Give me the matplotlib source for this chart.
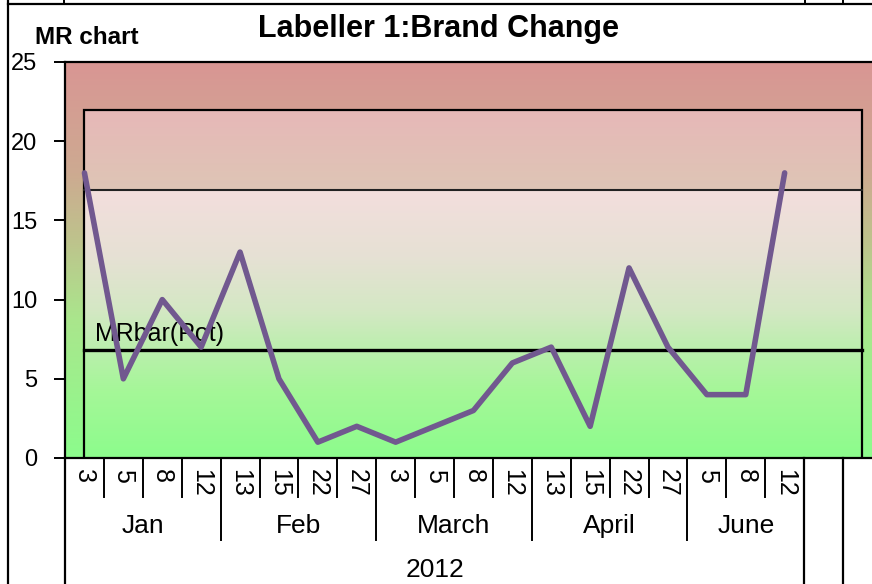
import numpy as np
import matplotlib
matplotlib.use("Agg")
import matplotlib.pyplot as plt
from matplotlib.transforms import blended_transform_factory

# ---- data -----------------------------------------------------------
days = ["3", "5", "8", "12", "13", "15", "22", "27", "3", "5", "8", "12",
        "13", "15", "22", "27", "5", "8", "12"]
months = ["Jan", "Feb", "March", "April", "June"]
month_sizes = [4, 4, 4, 4, 3]
year = "2012"
mr_values = [18, 5, 10, 7, 13, 5, 1, 2, 1, 2, 3, 6, 7, 2, 12, 7, 4, 4, 18]
n_empty = 2            # trailing empty categories on the axis
mr_bar = 6.8           # MRbar(Pot)
ucl = 16.9             # upper control limit
zone_top = 22          # top of the control zone box

FONT = ["Liberation Sans", "DejaVu Sans"]

n_cat = len(days) + n_empty
x = np.arange(len(days))

fig = plt.figure(figsize=(8.72, 5.84), dpi=100)
W, H = 872, 584
ax_left, ax_bottom_px, ax_top_px = 65, 458, 62
cat_w = (843 - 65) / 20.0
xmax = -0.5 + (W - ax_left) / cat_w
ax = fig.add_axes([ax_left / W, 1 - ax_bottom_px / H, 1 - ax_left / W,
                   (ax_bottom_px - ax_top_px) / H])
ax.set_xlim(-0.5, xmax)
ax.set_ylim(0, 25)


def vgrad(stops):
    """Vertical RGB gradient image from (value, rgb) stops, bottom to top."""
    vals = np.linspace(0, 1, 256)
    pos = [s[0] for s in stops]
    cols = np.array([s[1] for s in stops]) / 255.0
    img = np.stack([np.interp(vals, pos, cols[:, c]) for c in range(3)], axis=-1)
    return img[:, None, :]


# plot-area background: red at the top fading to green at the bottom
bg = vgrad([(0.0, (140, 252, 140)), (0.35, (170, 230, 140)),
            (0.55, (190, 195, 140)), (0.72, (205, 170, 145)),
            (1.0, (217, 150, 148))])
ax.imshow(bg, extent=(-0.5, xmax, 0, 25), origin="lower", aspect="auto",
          zorder=0, interpolation="bilinear")

# upper warning band inside the control box
band1 = vgrad([(0.0, (222, 197, 181)), (1.0, (231, 184, 184))])
ax.imshow(band1, extent=(0, n_cat - 1, ucl, zone_top), origin="lower",
          aspect="auto", zorder=1, interpolation="bilinear")

# lower band: pale pink under the limit down to green at zero
band2 = vgrad([(0.0, (140, 252, 140)), (0.25, (165, 247, 152)),
               (0.40, (186, 239, 172)), (0.55, (212, 232, 196)),
               (0.75, (230, 225, 212)), (1.0, (243, 222, 221))])
ax.imshow(band2, extent=(0, n_cat - 1, 0, ucl), origin="lower",
          aspect="auto", zorder=1, interpolation="bilinear")

# control box and limit lines
ax.plot([0, 0, n_cat - 1, n_cat - 1], [0, zone_top, zone_top, 0],
        color="black", lw=1.6, zorder=3, solid_joinstyle="miter")
ax.plot([0, n_cat - 1], [ucl, ucl], color="#222222", lw=1.5, zorder=3)
ax.plot([0, n_cat - 1], [mr_bar, mr_bar], color="black", lw=2.4, zorder=3)
ax.text(0.28, mr_bar + 0.6, "MRbar(Pot)", fontsize=18, family=FONT,
        ha="left", va="baseline", zorder=4)

# moving range series
ax.plot(x, mr_values, color="#71588F", lw=4.0, zorder=5,
        solid_joinstyle="round", solid_capstyle="round")

# axes styling
ax.spines["right"].set_visible(False)
for side in ["top", "left", "bottom"]:
    ax.spines[side].set_linewidth(1.6)
ax.set_yticks(range(0, 26, 5))
ax.set_yticklabels([str(v) for v in range(0, 26, 5)], family=FONT,
                   fontsize=17)
ax.tick_params(axis="y", direction="out", length=8, width=1.4, pad=12)
ax.set_xticks([])

# multi-level category axis
tr = blended_transform_factory(ax.transData, ax.transAxes)
px = 1.0 / (ax_bottom_px - ax_top_px)   # one pixel in axes units
y_day_sep = -39 * px
y_month_sep = -82 * px
y_bottom = -(H - ax_bottom_px) * px

for i, d in enumerate(days):
    ax.text(i, -11 * px, d, rotation=-90, ha="center", va="top",
            fontsize=18, family=FONT, transform=tr)

start = 0
month_edges = [-0.5]
for m, s in zip(months, month_sizes):
    for k in range(start, start + s - 1):
        ax.plot([k + 0.5, k + 0.5], [0, y_day_sep], color="black", lw=1.4,
                transform=tr, clip_on=False)
    ax.text(start + (s - 1) / 2, -68 * px, m, ha="center", va="center",
            fontsize=19, family=FONT, transform=tr)
    start += s
    month_edges.append(start - 0.5)
for e in month_edges[1:-1]:
    ax.plot([e, e], [0, y_month_sep], color="black", lw=1.4, transform=tr,
            clip_on=False)
for e in [-0.5, month_edges[-1], month_edges[-1] + 1]:
    ax.plot([e, e], [0, y_bottom], color="black", lw=1.6, transform=tr,
            clip_on=False)
ax.text((len(days) - 1) / 2, -112 * px, year, ha="center", va="center",
        fontsize=19, family=FONT, transform=tr)

# titles
fig.text(438 / W, 1 - 29 / H, "Labeller 1:Brand Change", ha="center",
         va="center", fontsize=22, fontweight="bold", family=FONT)
fig.text(35 / W, 1 - 37 / H, "MR chart", ha="left", va="center",
         fontsize=17.5, fontweight="bold", family=FONT)

# outer frame edges
fig.add_artist(plt.Line2D([8 / W, 8 / W], [0, 1], color="black", lw=1.6,
                          transform=fig.transFigure))
fig.add_artist(plt.Line2D([8 / W, 1], [1 - 4 / H, 1 - 4 / H], color="black",
                          lw=1.6, transform=fig.transFigure))
for xp in [64, 805, 843]:
    fig.add_artist(plt.Line2D([xp / W, xp / W], [1 - 4 / H, 1], color="black",
                              lw=1.4, transform=fig.transFigure))

fig.savefig("out.png", dpi=100)
